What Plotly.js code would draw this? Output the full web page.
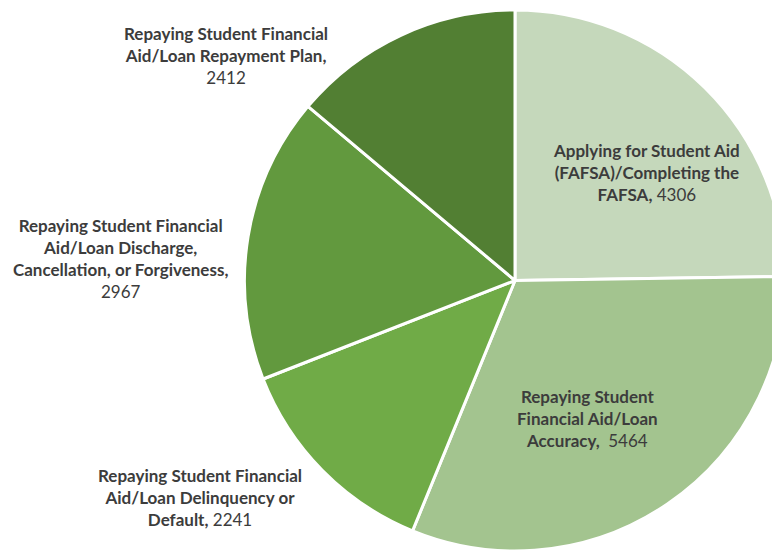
<!DOCTYPE html>
<html>
<head>
<meta charset="utf-8">
<script src="https://cdn.plot.ly/plotly-3.0.1.min.js"></script>
<style>
html,body{margin:0;padding:0;overflow:hidden;background:#fff;width:772px;height:557px;}
#chart{width:1030px;height:557px;}
</style>
</head>
<body>
<div id="chart"></div>
<script>
var categories = [
  "Applying for Student Aid (FAFSA)/Completing the FAFSA",
  "Repaying Student Financial Aid/Loan Accuracy",
  "Repaying Student Financial Aid/Loan Delinquency or Default",
  "Repaying Student Financial Aid/Loan Discharge, Cancellation, or Forgiveness",
  "Repaying Student Financial Aid/Loan Repayment Plan"
];
var values = [4306, 5464, 2241, 2967, 2412];
var labelLines = [
  ["Applying for Student Aid", "(FAFSA)/Completing the", "FAFSA,"],
  ["Repaying Student", "Financial Aid/Loan", "Accuracy, "],
  ["Repaying Student Financial", "Aid/Loan Delinquency or", "Default,"],
  ["Repaying Student Financial", "Aid/Loan Discharge,", "Cancellation, or Forgiveness,", ""],
  ["Repaying Student Financial", "Aid/Loan Repayment Plan,", ""]
];
var colors = ["#c5d8bb", "#a3c48f", "#70ab47", "#62993e", "#527f33"];

var W = 1030, H = 557, T = 10, B = 6;
var plotH = H - T - B;
// label centre positions in pixels
var labelPos = [[646, 172], [587, 418], [200, 497], [120, 258], [226, 55]];

var annotations = categories.map(function (c, i) {
  var lines = labelLines[i].slice();
  var last = lines.pop();
  var txt = lines.map(function (l) { return "<b>" + l + "</b>"; }).join("<br>");
  var lastLine = (last ? "<b>" + last + "</b> " : "") + values[i];
  txt += "<br>" + lastLine;
  return {
    xref: "paper", yref: "paper",
    x: labelPos[i][0] / W,
    y: (H - B - labelPos[i][1]) / plotH,
    xanchor: "center", yanchor: "middle",
    text: txt, showarrow: false, align: "center",
    font: {family: "Lato, 'Open Sans', sans-serif", size: 17, color: "#3c3c3c"}
  };
});

var data = [{
  type: "pie",
  labels: categories,
  values: values,
  sort: false,
  direction: "clockwise",
  rotation: 0,
  textinfo: "none",
  hoverinfo: "label+value",
  marker: {colors: colors, line: {color: "#ffffff", width: 3}},
  showlegend: false
}];

var layout = {
  width: W, height: H,
  margin: {l: 0, r: 0, t: T, b: B, pad: 0},
  paper_bgcolor: "#ffffff",
  showlegend: false,
  annotations: annotations
};

Plotly.newPlot("chart", data, layout, {displayModeBar: false, staticPlot: true});
</script>
</body>
</html>
